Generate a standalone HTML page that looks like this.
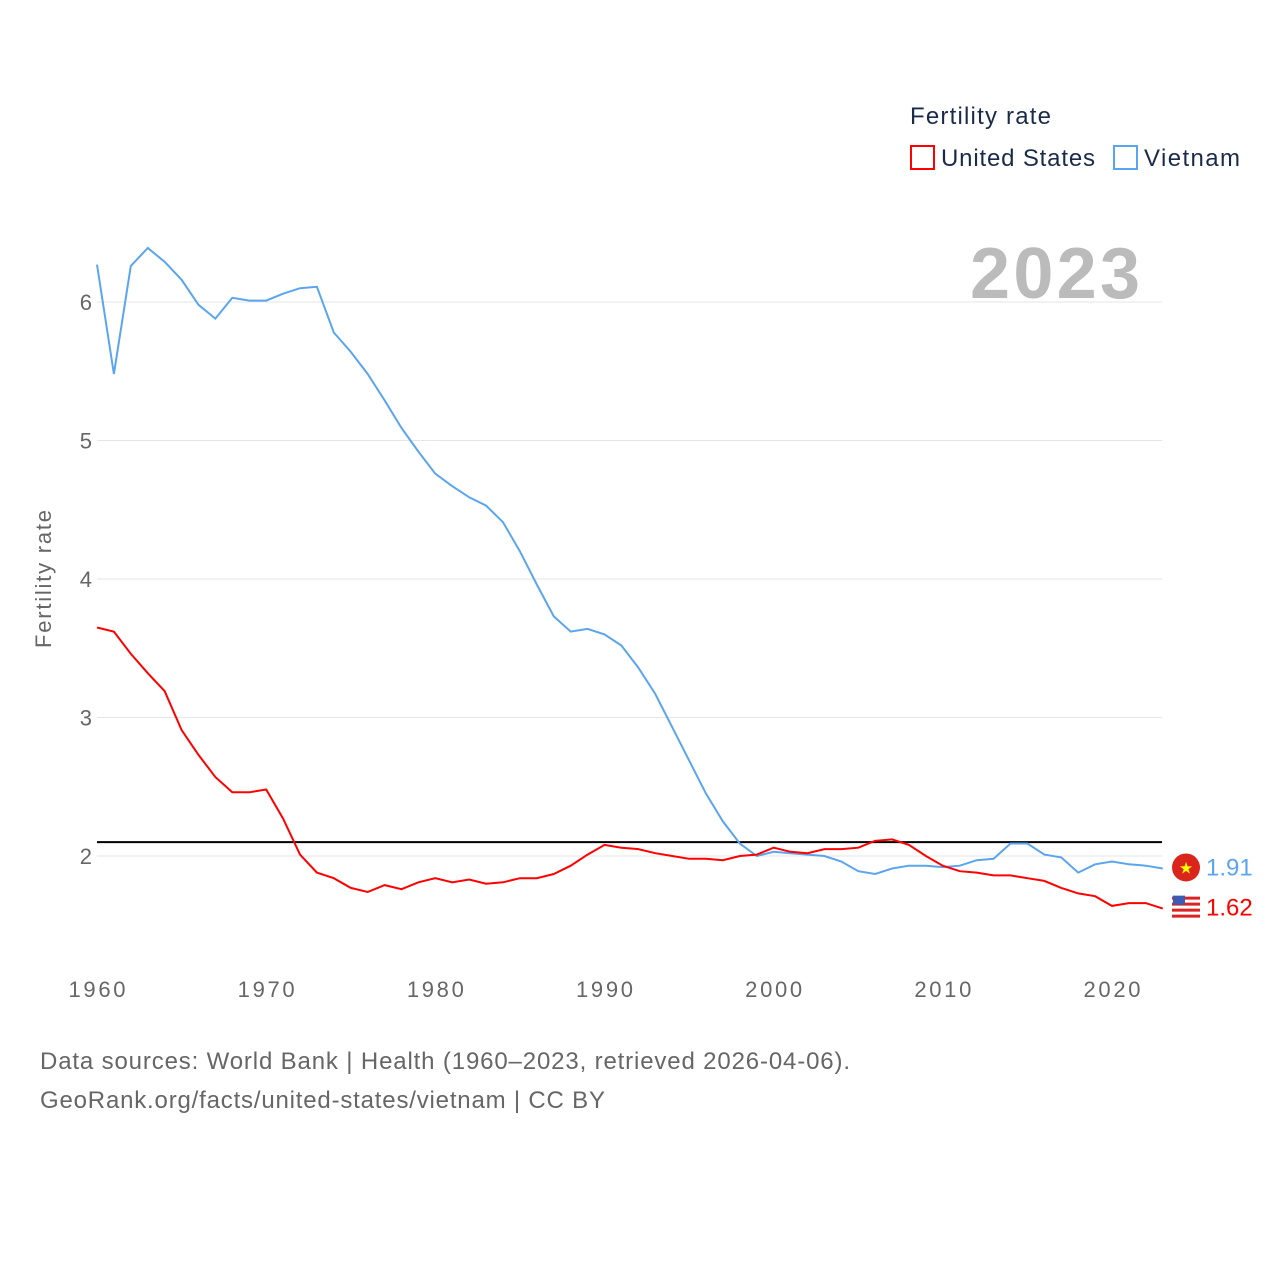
<!DOCTYPE html>
<html><head><meta charset="utf-8"><style>
body{margin:0;background:#fff;font-family:"Liberation Sans",sans-serif}
svg text{font-family:"Liberation Sans",sans-serif}
</style></head><body>
<svg id="chart" width="1280" height="1280" xmlns="http://www.w3.org/2000/svg">
<text x="910" y="124" font-size="24" fill="#1a2b4a" textLength="141">Fertility rate</text>
<rect x="911" y="146" width="23" height="23" fill="none" stroke="#f00" stroke-width="2"/>
<text x="941" y="166" font-size="24" fill="#1a2b4a" textLength="154">United States</text>
<rect x="1114" y="146" width="23" height="23" fill="none" stroke="#5aa5ee" stroke-width="2"/>
<text x="1144" y="166" font-size="24" fill="#1a2b4a" textLength="96">Vietnam</text>
<text x="1140" y="298" font-size="72" font-weight="bold" fill="#bbb" text-anchor="end" textLength="170">2023</text>
<text transform="translate(51,579) rotate(-90)" font-size="22" fill="#666" text-anchor="middle" textLength="138">Fertility rate</text>
<g id="grid"></g><g id="lines"></g>
<text x="40" y="1069" font-size="24" fill="#666" textLength="810">Data sources: World Bank | Health (1960–2023, retrieved 2026-04-06).</text>
<text x="40" y="1108" font-size="24" fill="#666" textLength="565">GeoRank.org/facts/united-states/vietnam | CC BY</text>
</svg>
<script>
const startYear=1960;
const vietnam=[6.27,5.48,6.26,6.39,6.29,6.16,5.98,5.88,6.03,6.01,6.01,6.06,6.10,6.11,5.78,5.64,5.48,5.29,5.09,4.92,4.76,4.67,4.59,4.53,4.41,4.20,3.96,3.73,3.62,3.64,3.60,3.52,3.36,3.17,2.93,2.69,2.45,2.25,2.09,2.00,2.03,2.02,2.01,2.00,1.96,1.89,1.87,1.91,1.93,1.93,1.92,1.93,1.97,1.98,2.09,2.09,2.01,1.99,1.88,1.94,1.96,1.94,1.93,1.91];
const usa=[3.65,3.62,3.46,3.32,3.19,2.91,2.73,2.57,2.46,2.46,2.48,2.27,2.01,1.88,1.84,1.77,1.74,1.79,1.76,1.81,1.84,1.81,1.83,1.80,1.81,1.84,1.84,1.87,1.93,2.01,2.08,2.06,2.05,2.02,2.00,1.98,1.98,1.97,2.00,2.01,2.06,2.03,2.02,2.05,2.05,2.06,2.11,2.12,2.08,2.00,1.93,1.89,1.88,1.86,1.86,1.84,1.82,1.77,1.73,1.71,1.64,1.66,1.66,1.62];
const yTicks=[2,3,4,5,6];
const xTicks=[1960,1970,1980,1990,2000,2010,2020];
const replacement=2.1;
const X=y=>97+(y-1960)*1015/60;
const Y=v=>856-(v-2)*138.5;
const NS="http://www.w3.org/2000/svg";
const grid=document.getElementById('grid'),lines=document.getElementById('lines');
function mk(tag,attrs,parent){const e=document.createElementNS(NS,tag);for(const k in attrs)e.setAttribute(k,attrs[k]);parent.appendChild(e);return e;}
yTicks.forEach(t=>{
 const l=mk('line',{x1:97,x2:1162,y1:Y(t),y2:Y(t),stroke:'#e6e6e6','stroke-width':1},grid);
 
 
 const tx=mk('text',{x:92,y:Y(t)+8,'font-size':22,fill:'#666','text-anchor':'end'},grid);tx.textContent=t;
 
 
});
xTicks.forEach(t=>{
 const tx=mk('text',{x:X(t),y:997,'font-size':22,fill:'#666','text-anchor':'middle',textLength:57},grid);tx.textContent=t;
 
 
});
const ref=mk('line',{x1:97,x2:1162,y1:Y(replacement),y2:Y(replacement),stroke:'#000','stroke-width':2},lines);


function series(arr,color,name){
 const d=arr.map((v,i)=>(i?'L':'M')+X(startYear+i).toFixed(1)+','+Y(v).toFixed(1)).join('');
 const p=mk('path',{d:d,fill:'none',stroke:color,'stroke-width':2},lines);
 
 
 const last=arr[arr.length-1],ly=Y(last);
 const c=mk('circle',{cx:1186,cy:ly-1,r:14,fill:name==='vietnam'?'#da251d':'#fff'},lines);
 
 
 if(name==='vietnam'){const s=mk('text',{x:1186,y:ly+5,'font-size':16,fill:'#ff0','text-anchor':'middle'},lines);s.textContent='★';
  
  }
 else{for(let k=0;k<4;k++){const r=mk('rect',{x:1172,y:ly-12+k*6,width:28,height:3,fill:'#d22'},lines);
  
  }
  const b=mk('rect',{x:1173,y:ly-13,width:12,height:9,fill:'#3b5bb5'},lines);
  
  }
 const t=mk('text',{x:1206,y:ly+7,'font-size':24,fill:color},lines);t.textContent=last.toFixed(2);
 
 
}
series(vietnam,'#5aa5ee','vietnam');
series(usa,'#f00','united-states');
</script>
</body></html>
